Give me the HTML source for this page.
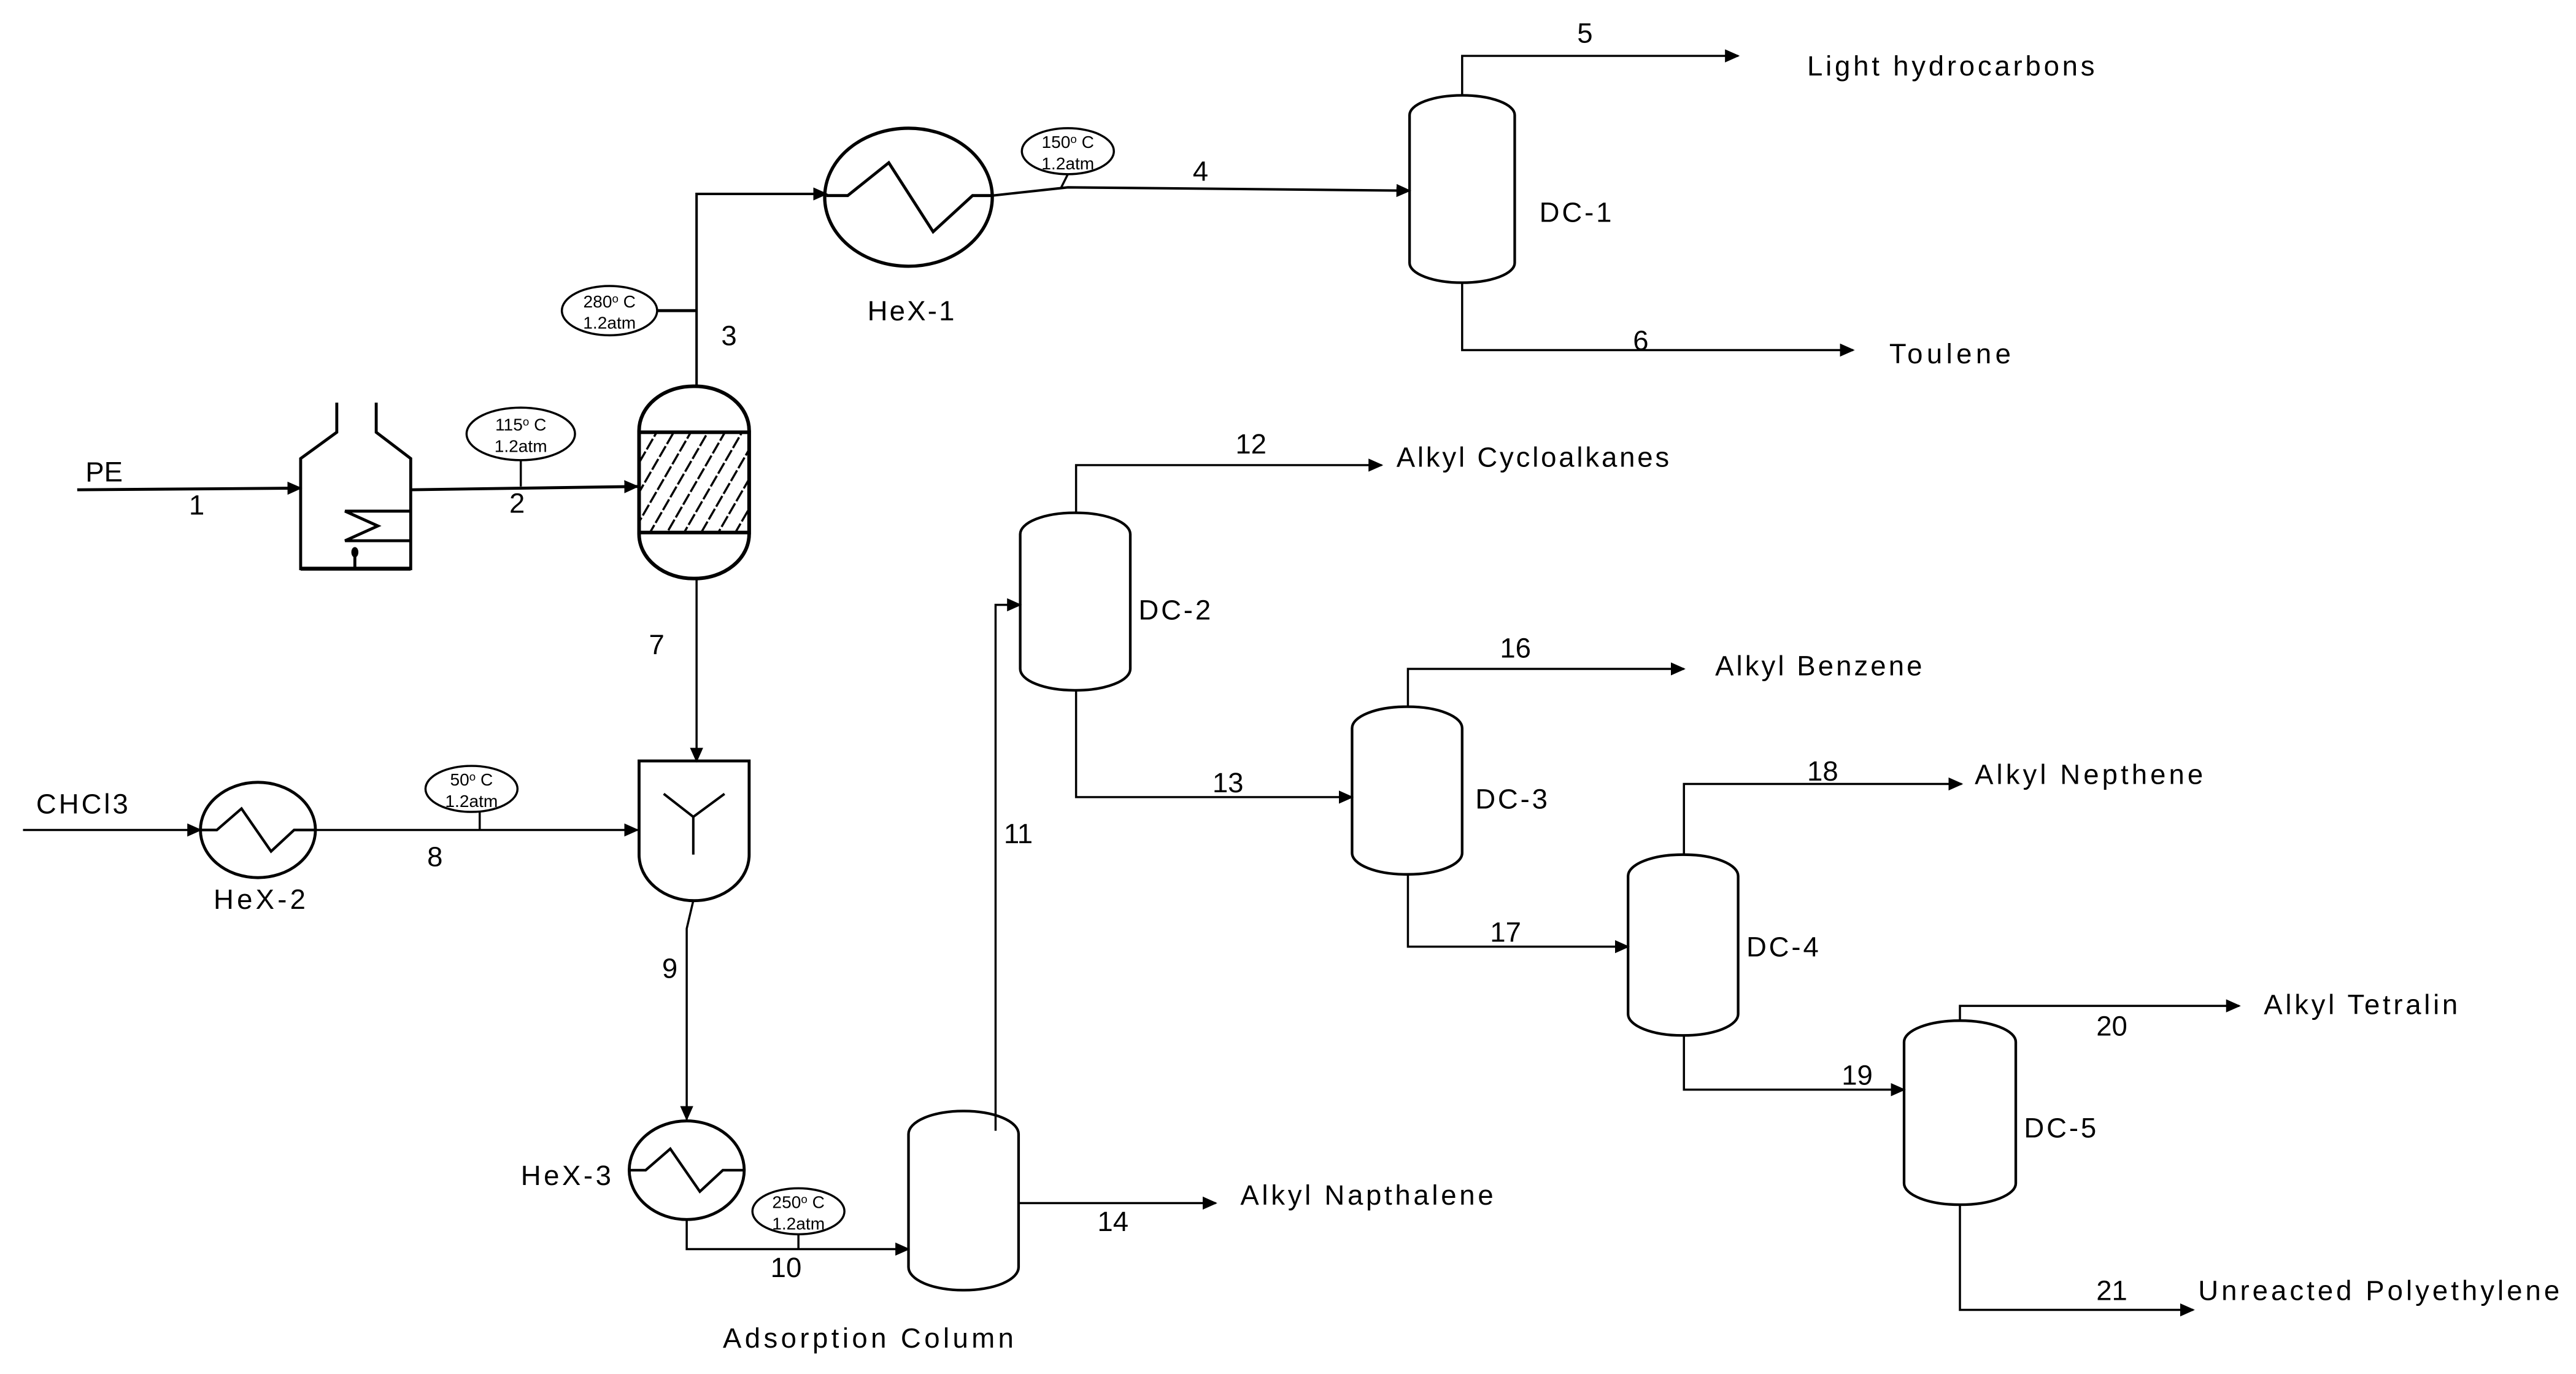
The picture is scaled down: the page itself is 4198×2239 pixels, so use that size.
<!DOCTYPE html>
<html><head><meta charset="utf-8"><style>
html,body{margin:0;padding:0;background:#fff;}
svg{display:block;}
text{font-family:"Liberation Sans",sans-serif;fill:#000;}
.l{font-size:17px;}
.b{font-size:10.5px;text-anchor:middle;}
</style></head><body>
<svg width="4198" height="2239" viewBox="0 0 1568 836" preserveAspectRatio="none" xmlns="http://www.w3.org/2000/svg">
<defs>
<marker id="a" markerWidth="10" markerHeight="10" refX="8" refY="4" orient="auto" markerUnits="userSpaceOnUse">
<path d="M0,0 L9,4 L0,8 z" fill="#000"/></marker>
<pattern id="h" width="9" height="9" patternUnits="userSpaceOnUse" patternTransform="rotate(30)">
<line x1="0" y1="0" x2="0" y2="9" stroke="#000" stroke-width="2.6" stroke-dasharray="4 1.5"/></pattern>
</defs>
<rect width="1568" height="836" fill="#fff"/>
<g fill="none" stroke="#000" stroke-width="1.3">
<line x1="47" y1="298" x2="183" y2="297" marker-end="url(#a)" stroke-width="1.8"/>
<g stroke-width="1.8">
<polyline points="205,245 205,263 183,279 183,346 250,346 250,279 229,263 229,245"/>
<line x1="183" y1="346" x2="250" y2="346" stroke-width="2.4"/>
<polyline points="250,311 210,311 230,320 210,329 250,329"/>
<line x1="216" y1="334" x2="216" y2="346"/>
</g>
<ellipse cx="216" cy="336" rx="1.5" ry="2.5" fill="#000"/>
<line x1="250" y1="298" x2="388" y2="296" marker-end="url(#a)" stroke-width="1.8"/>
<ellipse cx="317" cy="264" rx="33" ry="16"/>
<line x1="317" y1="280" x2="317" y2="296"/>
<rect x="389" y="235" width="67" height="117" rx="33" ry="27" stroke-width="2.2"/>
<rect x="389" y="263" width="67" height="61" fill="url(#h)" stroke-width="2.2"/>
<polyline points="424,235 424,118 503,118" marker-end="url(#a)" stroke-width="1.5"/>
<ellipse cx="371" cy="189" rx="29" ry="15"/>
<line x1="400" y1="189" x2="424" y2="189" stroke-width="1.8"/>
<ellipse cx="553" cy="120" rx="51" ry="42" stroke-width="2"/>
<polyline points="503,119 516,119 541,99 568,141 592,119 604,119" stroke-width="1.8"/>
<polyline points="604,119 650,114 858,116" marker-end="url(#a)" stroke-width="1.5"/>
<ellipse cx="650" cy="92" rx="28" ry="14"/>
<line x1="650" y1="106" x2="646" y2="114"/>
<rect x="858" y="58" width="64" height="114" rx="32" ry="12" stroke-width="1.6"/>
<polyline points="890,58 890,34 1058,34" marker-end="url(#a)"/>
<polyline points="890,172 890,213 1128,213" marker-end="url(#a)"/>
<line x1="424" y1="352" x2="424" y2="463" marker-end="url(#a)"/>
<path d="M389,463 L456,463 L456,520 A33.5,28 0 0 1 389,520 Z" stroke-width="1.8"/>
<polyline points="404,483 422,497 441,483" stroke-width="1.5"/>
<line x1="422" y1="497" x2="422" y2="520" stroke-width="1.5"/>
<line x1="14" y1="505" x2="122" y2="505" marker-end="url(#a)"/>
<ellipse cx="157" cy="505" rx="35" ry="29" stroke-width="1.8"/>
<polyline points="122,505 132,505 147,492 165,518 179,505 192,505" stroke-width="1.6"/>
<line x1="192" y1="505" x2="388" y2="505" marker-end="url(#a)"/>
<ellipse cx="287" cy="480" rx="28" ry="14"/>
<line x1="292" y1="494" x2="292" y2="505"/>
<polyline points="422,548 418,565 418,681" marker-end="url(#a)"/>
<ellipse cx="418" cy="712" rx="35" ry="30" stroke-width="1.8"/>
<polyline points="383,712 393,712 408,699 426,725 440,712 453,712" stroke-width="1.6"/>
<polyline points="418,742 418,760 553,760" marker-end="url(#a)"/>
<ellipse cx="486" cy="737" rx="28" ry="14"/>
<line x1="486" y1="751" x2="486" y2="760"/>
<rect x="553" y="676" width="67" height="109" rx="33" ry="14" stroke-width="1.6"/>
<polyline points="606,688 606,368 621,368" marker-end="url(#a)"/>
<line x1="620" y1="732" x2="740" y2="732" marker-end="url(#a)"/>
<rect x="621" y="312" width="67" height="108" rx="33" ry="13" stroke-width="1.6"/>
<polyline points="655,312 655,283 841,283" marker-end="url(#a)"/>
<polyline points="655,420 655,485 823,485" marker-end="url(#a)"/>
<rect x="823" y="430" width="67" height="102" rx="33" ry="13" stroke-width="1.6"/>
<polyline points="857,430 857,407 1025,407" marker-end="url(#a)"/>
<polyline points="857,532 857,576 991,576" marker-end="url(#a)"/>
<rect x="991" y="520" width="67" height="110" rx="33" ry="13" stroke-width="1.6"/>
<polyline points="1025,520 1025,477 1194,477" marker-end="url(#a)"/>
<polyline points="1025,630 1025,663 1159,663" marker-end="url(#a)"/>
<rect x="1159" y="621" width="68" height="112" rx="34" ry="13" stroke-width="1.6"/>
<polyline points="1193,621 1193,612 1363,612" marker-end="url(#a)"/>
<polyline points="1193,733 1193,797 1335,797" marker-end="url(#a)"/>
</g>
<g class="l">
<text x="52" y="293">PE</text>
<text x="115" y="313">1</text>
<text x="310" y="312">2</text>
<text x="439" y="210">3</text>
<text x="726" y="110">4</text>
<text x="960" y="26">5</text>
<text x="994" y="213">6</text>
<text x="395" y="398">7</text>
<text x="260" y="527">8</text>
<text x="403" y="595">9</text>
<text x="469" y="777">10</text>
<text x="611" y="513">11</text>
<text x="752" y="276">12</text>
<text x="738" y="482">13</text>
<text x="668" y="749">14</text>
<text x="913" y="400">16</text>
<text x="907" y="573">17</text>
<text x="1100" y="475">18</text>
<text x="1121" y="660">19</text>
<text x="1276" y="630">20</text>
<text x="1276" y="791">21</text>
<text x="528" y="195" textLength="53">HeX-1</text>
<text x="130" y="553" textLength="56">HeX-2</text>
<text x="317" y="721" textLength="55">HeX-3</text>
<text x="937" y="135" textLength="44">DC-1</text>
<text x="693" y="377" textLength="44">DC-2</text>
<text x="898" y="492" textLength="44">DC-3</text>
<text x="1063" y="582" textLength="44">DC-4</text>
<text x="1232" y="692" textLength="44">DC-5</text>
<text x="22" y="495" textLength="56">CHCl3</text>
<text x="1100" y="46" textLength="175">Light hydrocarbons</text>
<text x="1150" y="221" textLength="74">Toulene</text>
<text x="850" y="284" textLength="166">Alkyl Cycloalkanes</text>
<text x="1044" y="411" textLength="126">Alkyl Benzene</text>
<text x="1202" y="477" textLength="139">Alkyl Nepthene</text>
<text x="1378" y="617" textLength="118">Alkyl Tetralin</text>
<text x="1338" y="791" textLength="220">Unreacted Polyethylene</text>
<text x="755" y="733" textLength="154">Alkyl Napthalene</text>
<text x="440" y="820" textLength="177">Adsorption Column</text>
</g>
<g class="b">
<text x="317" y="262">115<tspan dy="-3" font-size="7">o</tspan><tspan dy="3"> C</tspan></text>
<text x="317" y="275">1.2atm</text>
<text x="371" y="187">280<tspan dy="-3" font-size="7">o</tspan><tspan dy="3"> C</tspan></text>
<text x="371" y="200">1.2atm</text>
<text x="650" y="90">150<tspan dy="-3" font-size="7">o</tspan><tspan dy="3"> C</tspan></text>
<text x="650" y="103">1.2atm</text>
<text x="287" y="478">50<tspan dy="-3" font-size="7">o</tspan><tspan dy="3"> C</tspan></text>
<text x="287" y="491">1.2atm</text>
<text x="486" y="735">250<tspan dy="-3" font-size="7">o</tspan><tspan dy="3"> C</tspan></text>
<text x="486" y="748">1.2atm</text>
</g>
</svg>
</body></html>
